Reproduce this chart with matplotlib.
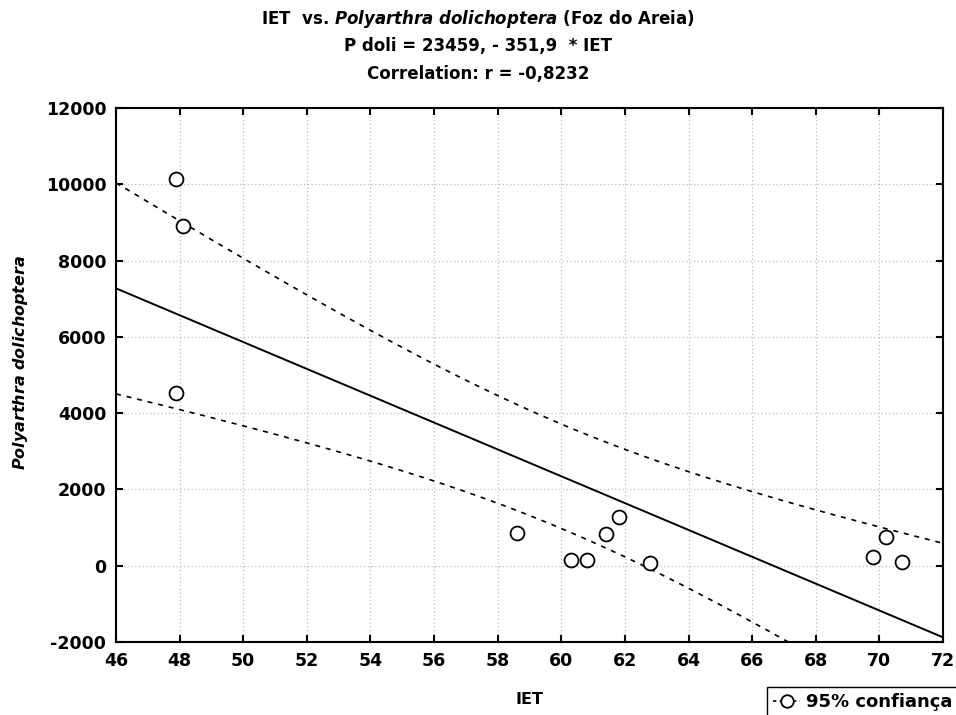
import numpy as np
import matplotlib
matplotlib.use("Agg")
import matplotlib.pyplot as plt
from matplotlib.lines import Line2D

plt.rcParams['font.family'] = ['DejaVu Sans']
plt.rcParams['mathtext.fontset'] = 'custom'
plt.rcParams['mathtext.bfit'] = 'DejaVu Sans:bold:italic'
plt.rcParams['mathtext.rm'] = 'DejaVu Sans:bold'
plt.rcParams['axes.unicode_minus'] = False

# IET e densidade de Polyarthra dolichoptera (Foz do Areia)
iet = [47.9, 48.1, 47.9, 58.6, 60.3, 60.8, 61.4, 61.8, 62.8, 69.8, 70.2, 70.7]
p_doli = [10150, 8900, 4530, 870, 160, 160, 820, 1290, 80, 240, 740, 110]

# reta ajustada: P doli = 23459 - 351,9 * IET
intercepto = 23459.0
inclinacao = -351.9

x_ticks = [46, 48, 50, 52, 54, 56, 58, 60, 62, 64, 66, 68, 70, 72]
y_ticks = [-2000, 0, 2000, 4000, 6000, 8000, 10000, 12000]

x = np.array(iet)
y = np.array(p_doli)
n = len(x)
xs = np.linspace(46, 72, 300)
ys = intercepto + inclinacao * xs

# intervalo de confiança de 95% para a média
res = y - (intercepto + inclinacao * x)
s = np.sqrt(np.sum(res ** 2) / (n - 2))
sxx = np.sum((x - x.mean()) ** 2)
t = 2.228  # t(0,975; 10 gl)
meia = t * s * np.sqrt(1.0 / n + (xs - x.mean()) ** 2 / sxx)

fig = plt.figure(figsize=(9.56, 7.15), dpi=100)
ax = fig.add_axes([116 / 956, 1 - 642 / 715, (943 - 116) / 956, (642 - 108) / 715])

ax.plot(xs, ys, color='black', lw=1.4)
ax.plot(xs, ys + meia, color='black', lw=1.2, dashes=(3, 3.5))
ax.plot(xs, ys - meia, color='black', lw=1.2, dashes=(3, 3.5))
ax.plot(iet, p_doli, 'o', mfc='white', mec='black', ms=10, mew=1.3, zorder=5)

ax.set_xlim(46, 72)
ax.set_ylim(-2000, 12000)
ax.set_xticks(x_ticks)
ax.set_yticks(y_ticks)
ax.grid(True, color='#bdbdbd', lw=0.9, linestyle=(0, (1, 2)))
ax.tick_params(direction='in', length=5, width=1.5, labelsize=12.5,
               top=True, right=True, pad=7)
for lab in ax.get_xticklabels() + ax.get_yticklabels():
    lab.set_fontweight('bold')
for sp in ax.spines.values():
    sp.set_linewidth(1.5)

ax.set_xlabel('IET', fontsize=11.5, fontweight='bold', va='center')
ax.xaxis.set_label_coords(0.5, -(700 - 642) / 534)
ax.set_ylabel(r'$\mathbfit{Polyarthra\ dolichoptera}$', fontsize=11.5, va='center')
ax.yaxis.set_label_coords(-(116 - 21) / 827, (642 - 362) / 534)

fig.text(0.5, 1 - 19 / 715, r'IET  vs. $\mathbfit{Polyarthra\ dolichoptera}$ (Foz do Areia)',
         ha='center', va='center', fontsize=12, fontweight='bold')
fig.text(0.5, 1 - 46 / 715, 'P doli = 23459, - 351,9  * IET',
         ha='center', va='center', fontsize=12, fontweight='bold')
fig.text(0.5, 1 - 74 / 715, 'Correlation: r = -0,8232',
         ha='center', va='center', fontsize=12, fontweight='bold')

h = Line2D([], [], color='black', lw=1.2, dashes=(2, 2), marker='o',
           mfc='white', mec='black', ms=9, mew=1.3)
leg = fig.legend([h], ['95% confiança'], loc='upper left',
                 bbox_to_anchor=(767 / 956, 1 - 687 / 715),
                 prop={'weight': 'bold', 'size': 13}, fancybox=False,
                 handlelength=1.5, handletextpad=0.3, borderpad=0.35,
                 borderaxespad=0, framealpha=1)
leg.get_frame().set_edgecolor('black')
leg.get_frame().set_linewidth(1.0)

fig.savefig('out.png', dpi=100)
